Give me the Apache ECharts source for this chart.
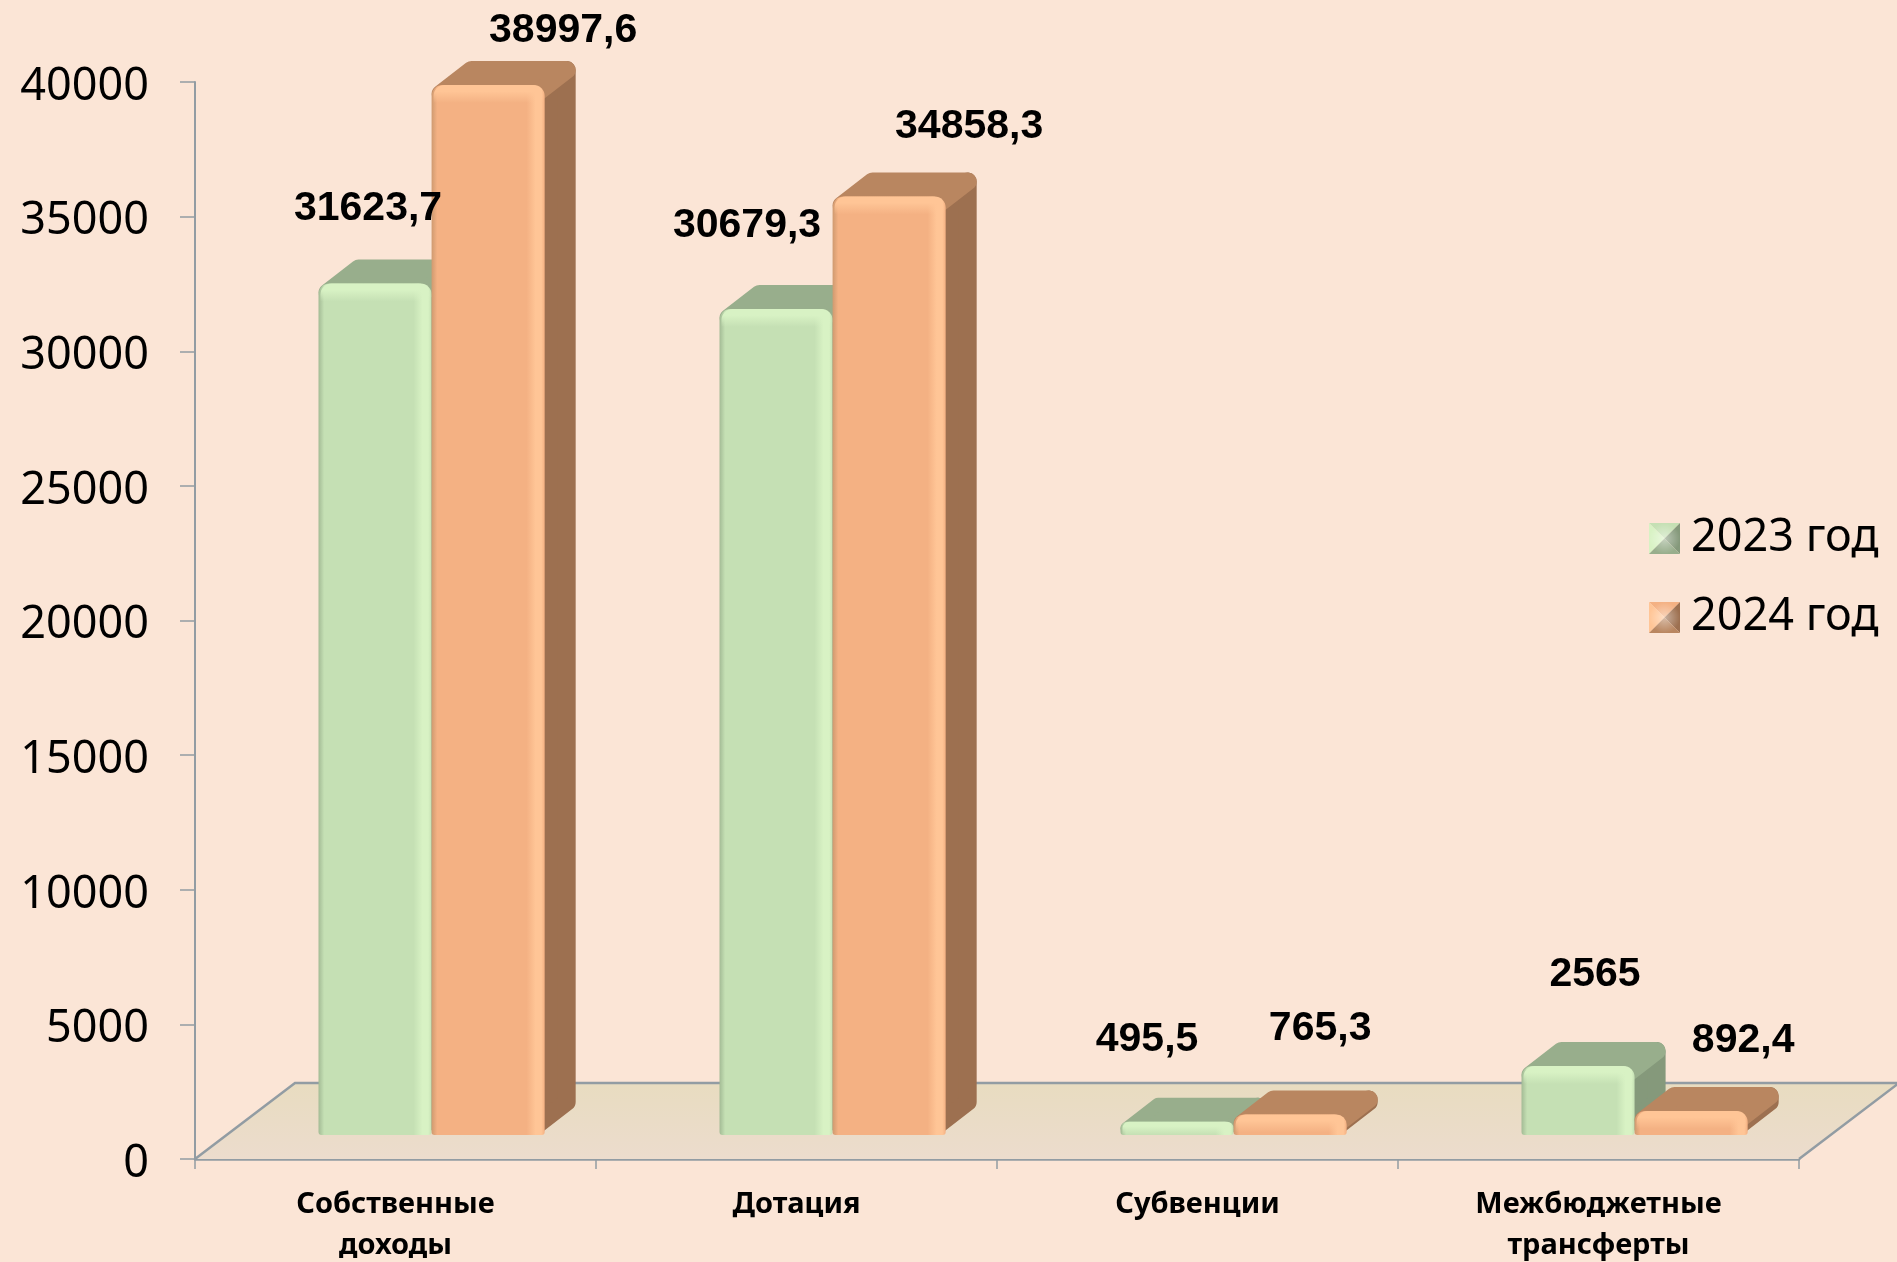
<!DOCTYPE html>
<html>
<head>
<meta charset="utf-8">
<title>Доходы</title>
<script src="https://cdn.jsdelivr.net/npm/echarts@6/dist/echarts.min.js"></script>
<style>
  html, body { margin: 0; padding: 0; background: #fbe5d6; }
  #main { width: 1897px; height: 1262px; }
</style>
</head>
<body>
<div id="main"></div>
<script>
const categories = ['Собственные\nдоходы', 'Дотация', 'Субвенции', 'Межбюджетные\nтрансферты'];
const values2023 = [31623.7, 30679.3, 495.5, 2565];
const values2024 = [38997.6, 34858.3, 765.3, 892.4];
const yTicks = { min: 0, max: 40000, interval: 5000 };

// label positions were set by hand in the original, so offsets from the bar top
const labelOffsets2023 = [[-7, -75], [-29, -83], [-30, -82], [17, -91]];
const labelOffsets2024 = [[75, -54], [80, -70], [30, -86], [52, -70]];

const green = { front: '#c5e0b4', light: '#d8f2c4', dark: '#a3bb95', top: '#98ae8c', side: '#85997b' };
const orange = { front: '#f4b183', light: '#ffc596', dark: '#cf9a70', top: '#b98660', side: '#9d7050' };

const AXIS_COLOR = '#929ca3';
const DEPTH_X = 31;   // side face
const DEPTH_Y = 24;
const FLOOR_X = 100;
const FLOOR_Y = 76;

function fmt(v) {
  return String(v).replace('.', ',');
}

function legendIcon(c) {
  let svg = "<svg xmlns='http://www.w3.org/2000/svg' width='31' height='31'>"
    + "<defs><radialGradient id='g' cx='.5' cy='.5' r='.5'><stop offset='0' stop-color='#fff' stop-opacity='.45'/><stop offset='1' stop-color='#fff' stop-opacity='0'/></radialGradient></defs>"
    + "<polygon points='0,0 31,0 15.5,15.5' fill='" + c.front + "'/>"
    + "<polygon points='0,0 0,31 15.5,15.5' fill='" + c.light + "'/>"
    + "<polygon points='31,0 31,31 15.5,15.5' fill='" + c.side + "'/>"
    + "<polygon points='0,31 31,31 15.5,15.5' fill='" + c.top + "'/>"
    + "<rect width='31' height='31' fill='url(#g)'/></svg>";
  return 'image://data:image/svg+xml,' + encodeURIComponent(svg);
}

function floorItem(params) {
  let cs = params.coordSys;
  let x0 = cs.x, x1 = cs.x + cs.width, y0 = cs.y + cs.height;
  return {
    type: 'group',
    children: [
      {
        type: 'polygon',
        shape: { points: [[x0, y0], [x0 + FLOOR_X, y0 - FLOOR_Y], [x1 + FLOOR_X, y0 - FLOOR_Y], [x1, y0]] },
        style: {
          fill: new echarts.graphic.LinearGradient(0, 0, 0, 1, [
            { offset: 0, color: '#e8dcc0' },
            { offset: 1, color: '#ecdccd' }
          ])
        }
      },
      {
        type: 'polyline',
        shape: { points: [[x0, y0], [x0 + FLOOR_X, y0 - FLOOR_Y], [x1 + FLOOR_X, y0 - FLOOR_Y], [x1, y0]] },
        style: { fill: null, stroke: AXIS_COLOR, lineWidth: 2.5 }
      }
    ]
  };
}

// front face box of a bar, from the axes
function barBox(api, shift) {
  let idx = api.value(0);
  let p = api.coord([idx, api.value(1)]);
  let base = api.coord([idx, 0]);
  let band = api.size([1, 0])[0];
  let w = band * 0.282;
  let cx = p[0] + band * 0.09 + shift * w;
  return { idx: idx, cx: cx, w: w, left: cx - w / 2, right: cx + w / 2, top: p[1] - DEPTH_Y, bottom: base[1] - DEPTH_Y };
}

// one 3d looking bar: side, top, front face, and a lit edge on the front
function barRenderer(c, shift) {
  return function (params, api) {
    let b = barBox(api, shift);
    let left = b.left, right = b.right, top = b.top, bottom = b.bottom, w = b.w;
    let h = bottom - top;
    let r = Math.min(9, h / 2);
    let dx = DEPTH_X, dy = DEPTH_Y;
    let strip = Math.min(18, h);
    let fr = Math.min(11, h / 2);
    return {
      type: 'group',
      children: [
        {
          type: 'polygon',
          shape: { points: [[right - r, top + r], [right + dx - r, top - dy + r], [right + dx - r, bottom - dy - r], [right - r, bottom - r]] },
          style: { fill: c.side, stroke: c.side, lineWidth: r * 2, lineJoin: 'round' }
        },
        {
          type: 'polygon',
          shape: { points: [[left + r, top + r], [left + dx + r, top - dy + r], [right + dx - r, top - dy + r], [right - r, top + r]] },
          style: { fill: c.top, stroke: c.top, lineWidth: r * 2, lineJoin: 'round' }
        },
        {
          type: 'rect',
          shape: { x: left, y: top, width: w, height: h, r: [fr, fr, 3, 3] },
          style: {
            fill: new echarts.graphic.LinearGradient(0, 0, 1, 0, [
              { offset: 0, color: c.dark },
              { offset: 0.05, color: c.front },
              { offset: 0.84, color: c.front },
              { offset: 0.92, color: c.light },
              { offset: 0.97, color: c.light },
              { offset: 1, color: c.front }
            ])
          }
        },
        {
          type: 'rect',
          shape: { x: left + 2, y: top, width: w - 4, height: strip, r: [fr, fr, 0, 0] },
          style: {
            fill: new echarts.graphic.LinearGradient(0, 0, 0, 1, [
              { offset: 0, color: c.light },
              { offset: 0.35, color: c.light },
              { offset: 1, color: c.light + '00' }
            ])
          }
        }
      ]
    };
  };
}

// labels go in their own series so they stay over the neighbouring bar
function labelRenderer(shift, offsets) {
  return function (params, api) {
    let b = barBox(api, shift);
    let off = offsets[b.idx];
    return {
      type: 'text',
      style: {
        text: fmt(api.value(1)),
        x: b.cx + off[0],
        y: b.top + off[1],
        align: 'center',
        verticalAlign: 'middle',
        fill: '#000',
        font: 'bold 41px "Liberation Sans"'
      }
    };
  };
}

function toData(arr) {
  return arr.map(function (v, i) { return [i, v]; });
}

let chart = echarts.init(document.getElementById('main'));
chart.setOption({
  animation: false,
  backgroundColor: '#fbe5d6',
  grid: { left: 195, right: 98, top: 82, bottom: 103, containLabel: false, outerBoundsMode: 'none' },
  legend: {
    orient: 'vertical',
    left: 1644,
    top: 511,
    itemWidth: 31,
    itemHeight: 31,
    itemGap: 34,
    itemStyle: { borderWidth: 0 },
    textStyle: { fontFamily: 'Noto Sans', fontSize: 45, color: '#000', padding: [0, 0, 0, 6] },
    data: [
      { name: '2023 год', icon: legendIcon(green) },
      { name: '2024 год', icon: legendIcon(orange) }
    ]
  },
  xAxis: {
    type: 'category',
    data: categories,
    boundaryGap: true,
    axisLine: { lineStyle: { color: AXIS_COLOR, width: 2.5 } },
    axisTick: { show: true, alignWithLabel: false, length: 10, lineStyle: { color: AXIS_COLOR, width: 1.5 } },
    axisLabel: {
      interval: 0,
      margin: 25,
      fontFamily: 'Noto Sans',
      fontWeight: 'bold',
      fontSize: 29,
      lineHeight: 41,
      color: '#000'
    }
  },
  yAxis: {
    type: 'value',
    min: yTicks.min,
    max: yTicks.max,
    interval: yTicks.interval,
    splitLine: { show: false },
    axisLine: { show: true, lineStyle: { color: AXIS_COLOR, width: 2 } },
    axisTick: { show: true, length: 15, lineStyle: { color: AXIS_COLOR, width: 1.5 } },
    axisLabel: {
      margin: 46,
      // small line box from the tick down, moves the digits a bit under centre
      verticalAlign: 'top',
      lineHeight: 10,
      fontFamily: 'Noto Sans',
      fontSize: 45,
      color: '#000',
      formatter: function (v) { return String(v); }
    }
  },
  series: [
    { name: 'floor', type: 'custom', z: 1, renderItem: floorItem, data: [[0, 0]], silent: true },
    {
      name: '2023 год',
      type: 'custom',
      z: 2,
      renderItem: barRenderer(green, -0.5),
      encode: { x: 0, y: 1 },
      itemStyle: { color: green.front },
      data: toData(values2023)
    },
    {
      name: '2024 год',
      type: 'custom',
      z: 3,
      renderItem: barRenderer(orange, 0.5),
      encode: { x: 0, y: 1 },
      itemStyle: { color: orange.front },
      data: toData(values2024)
    },
    { name: 'labels 2023', type: 'custom', z: 5, renderItem: labelRenderer(-0.5, labelOffsets2023), encode: { x: 0, y: 1 }, data: toData(values2023), silent: true },
    { name: 'labels 2024', type: 'custom', z: 5, renderItem: labelRenderer(0.5, labelOffsets2024), encode: { x: 0, y: 1 }, data: toData(values2024), silent: true }
  ]
});
</script>
</body>
</html>
